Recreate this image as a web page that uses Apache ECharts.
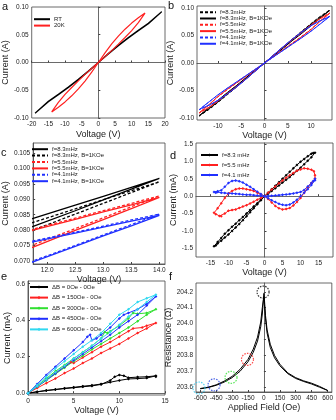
<!DOCTYPE html>
<html>
<head>
<meta charset="utf-8">
<script src="https://cdn.jsdelivr.net/npm/echarts@6/dist/echarts.min.js"></script>
<style>
html, body { margin: 0; padding: 0; background: #fff; }
#chart { width: 336px; height: 420px; }
</style>
</head>
<body>
<div id="chart"></div>
<script>
// ---- panel a : I-V at RT and 20K (A) ----
const aRtV = [0, 3, 6, 9, 12, 15, 19];
const aRtUp = [0, 0.0162, 0.0312, 0.0452, 0.0582, 0.0707, 0.0915];
const aRtLow = [0, 0.0154, 0.0300, 0.0440, 0.0570, 0.0697, 0.0915];
const a20kV = [0, 2, 4, 6, 8, 10, 12, 14];
const a20kUp = [0, 0.0175, 0.0335, 0.0475, 0.0600, 0.0710, 0.0805, 0.0890];
const a20kLow = [0, 0.0105, 0.0215, 0.0330, 0.0450, 0.0575, 0.0720, 0.0890];

// ---- panels b / c : loops at three frequencies, with and without field ----
const bV = [0, 2, 4, 6, 8, 10, 11.75, 12.5, 13, 13.5, 14];
const b83Up = [0, 0.0148, 0.0295, 0.0440, 0.0580, 0.0720, 0.0838, 0.0881, 0.0910, 0.0939, 0.0968];
const b83Low = [0, 0.0138, 0.0275, 0.0415, 0.0550, 0.0690, 0.0812, 0.0863, 0.0898, 0.0933, 0.0968];
const b83BUp = [0, 0.0145, 0.0290, 0.0430, 0.0570, 0.0710, 0.0825, 0.0869, 0.0899, 0.0928, 0.0957];
const b83BLow = [0, 0.0135, 0.0270, 0.0410, 0.0540, 0.0680, 0.0800, 0.0852, 0.0887, 0.0922, 0.0957];
const b55Up = [0, 0.0146, 0.0292, 0.0433, 0.0565, 0.0695, 0.0803, 0.0839, 0.0863, 0.0887, 0.0911];
const b55Low = [0, 0.0122, 0.0244, 0.0366, 0.0488, 0.0618, 0.0752, 0.0805, 0.0840, 0.0876, 0.0911];
const b55BUp = [0, 0.0145, 0.0290, 0.0430, 0.0560, 0.0690, 0.0800, 0.0835, 0.0859, 0.0882, 0.0906];
const b55BLow = [0, 0.0120, 0.0240, 0.0360, 0.0480, 0.0610, 0.0745, 0.0799, 0.0834, 0.0870, 0.0906];
const b41Up = [0, 0.0149, 0.0297, 0.0437, 0.0567, 0.0683, 0.0765, 0.0793, 0.0813, 0.0833, 0.0852];
const b41Low = [0, 0.0116, 0.0232, 0.0347, 0.0462, 0.0583, 0.0700, 0.0750, 0.0784, 0.0818, 0.0852];
const b41BUp = [0, 0.0148, 0.0295, 0.0435, 0.0565, 0.0680, 0.0762, 0.0790, 0.0810, 0.0829, 0.0848];
const b41BLow = [0, 0.0115, 0.0230, 0.0345, 0.0460, 0.0580, 0.0697, 0.0747, 0.0781, 0.0814, 0.0848];

// ---- panel d : I-V in mA, [V, I] in sweep order ----
const d83 = [[0,0],[1,0.1],[2,0.2],[3,0.3],[4,0.4],[5,0.5],[6,0.6],[7,0.7],[8,0.8],[9,0.9],[10,0.99],[11,1.07],[12,1.15],[13,1.22],[14,1.25],
  [13.5,1.24],[13,1.12],[12,1.02],[11,0.92],[10,0.82],[9,0.73],[8,0.64],[7,0.55],[6,0.47],[5,0.39],[4,0.31],[3,0.23],[2,0.15],[1,0.07],[0,0],
  [-1,-0.12],[-2,-0.23],[-3,-0.35],[-4,-0.46],[-5,-0.58],[-6,-0.69],[-7,-0.8],[-8,-0.9],[-9,-1.0],[-10,-1.1],[-11,-1.19],[-12,-1.28],[-13,-1.36],[-14,-1.44],
  [-13.5,-1.42],[-13,-1.32],[-12,-1.2],[-11,-1.08],[-10,-0.98],[-9,-0.88],[-8,-0.79],[-7,-0.69],[-6,-0.6],[-5,-0.5],[-4,-0.4],[-3,-0.3],[-2,-0.2],[-1,-0.1],[0,0]];
const d55 = [[0,0],[1,0.1],[2,0.19],[3,0.28],[4,0.37],[5,0.45],[6,0.53],[7,0.6],[8,0.67],[9,0.73],[10,0.77],[11,0.8],[12,0.79],[13,0.76],[13.7,0.72],[14,0.6],
  [14,0.5],[13,0.38],[12,0.25],[11,0.1],[10,-0.05],[9,-0.17],[8,-0.27],[7,-0.34],[6,-0.37],[5,-0.38],[4,-0.35],[3,-0.28],[2,-0.18],[1,-0.08],[0,0],
  [-1,0.05],[-2,0.1],[-3,0.15],[-4,0.18],[-5,0.2],[-6,0.22],[-7,0.22],[-8,0.2],[-9,0.15],[-10,0.08],[-11,-0.05],[-12,-0.2],[-13,-0.35],[-14,-0.48],
  [-13.5,-0.52],[-12.5,-0.57],[-12,-0.58],[-11,-0.5],[-10,-0.42],[-9,-0.4],[-8,-0.38],[-7,-0.34],[-6,-0.3],[-5,-0.26],[-4,-0.21],[-3,-0.16],[-2,-0.1],[-1,-0.05],[0,0]];
const d41 = [[0,0],[1,-0.06],[2,-0.12],[3,-0.17],[4,-0.22],[5,-0.25],[6,-0.26],[7,-0.24],[8,-0.18],[9,-0.1],[10,0.0],[11,0.1],[12,0.2],[13,0.32],[14,0.46],
  [14,0.5],[13.5,0.44],[13,0.38],[12,0.28],[11,0.18],[10,0.12],[9,0.1],[8,0.08],[7,0.06],[6,0.05],[5,0.04],[4,0.03],[3,0.02],[2,0.01],[1,0.005],[0,0],
  [-1,0.06],[-2,0.13],[-3,0.2],[-4,0.27],[-5,0.33],[-6,0.39],[-7,0.43],[-8,0.45],[-9,0.44],[-10,0.38],[-11,0.27],[-12,0.17],[-13,0.14],[-14,0.12],
  [-13.5,0.1],[-13,0.12],[-12,0.1],[-11,0.09],[-10,0.08],[-9,0.08],[-8,0.07],[-7,0.06],[-6,0.05],[-5,0.04],[-4,0.04],[-3,0.03],[-2,0.02],[-1,0.01],[0,0]];

// ---- panel e : field difference loops (mA) ----
const e0 = [[0,0],[1,0.008],[2,0.015],[3,0.02],[4,0.025],[5,0.03],[6,0.035],[7,0.04],[8,0.048],[9,0.07],[9.5,0.09],[10,0.1],[10.5,0.095],[11,0.085],[12,0.088],[13,0.09],[14,0.095],
  [14,0.09],[13,0.083],[12,0.08],[11,0.078],[10,0.07],[9,0.06],[8,0.05],[7,0.043],[6,0.038],[5,0.032],[4,0.027],[3,0.02],[2,0.014],[1,0.007],[0,0]];
const e150 = [[0,0],[1,0.04],[2,0.075],[3,0.11],[4,0.145],[4.7,0.17],[5,0.165],[6,0.195],[7,0.225],[8,0.255],[9,0.28],[10,0.31],[11,0.34],[11.5,0.355],[12.5,0.36],[13,0.37],[14,0.385],
  [13,0.355],[12,0.33],[11,0.3],[10,0.27],[9,0.245],[8,0.22],[7,0.19],[6,0.165],[5,0.135],[4,0.11],[3,0.08],[2,0.055],[1,0.028],[0,0]];
const e300 = [[0,0],[1,0.04],[2,0.08],[3,0.12],[4,0.155],[5,0.19],[6,0.225],[7,0.26],[8,0.3],[8.4,0.335],[8.7,0.33],[9,0.34],[10,0.37],[11,0.41],[11.5,0.44],[12,0.435],[13,0.44],[14,0.46],
  [13,0.43],[12,0.395],[11,0.36],[10,0.33],[9,0.3],[8,0.27],[7,0.24],[6,0.205],[5,0.175],[4,0.14],[3,0.105],[2,0.07],[1,0.035],[0,0]];
const e450 = [[0,0],[1,0.05],[2,0.1],[3,0.145],[4,0.19],[5,0.235],[6,0.28],[6.5,0.31],[6.8,0.32],[7,0.29],[7.5,0.3],[8,0.32],[9,0.36],[10,0.41],[10.5,0.43],[11,0.44],[12,0.46],[13,0.49],[14,0.53],
  [13,0.48],[12,0.43],[11,0.395],[10,0.36],[9,0.32],[8,0.285],[7,0.25],[6,0.215],[5,0.18],[4,0.145],[3,0.108],[2,0.072],[1,0.036],[0,0]];
const e600 = [[0,0],[1,0.045],[2,0.09],[3,0.135],[4,0.175],[5,0.215],[6,0.255],[7,0.29],[8,0.33],[9,0.38],[10,0.43],[11,0.46],[12,0.5],[13,0.52],[14,0.54],
  [13,0.5],[12,0.46],[11,0.42],[10,0.375],[9,0.335],[8,0.3],[7,0.26],[6,0.225],[5,0.19],[4,0.15],[3,0.115],[2,0.075],[1,0.038],[0,0]];

// ---- panel f : magnetoresistance ----
const fH = [-600, -525, -450, -375, -300, -225, -150, -100, -60, -30, -15, -5, 0, 5, 15, 30, 60, 100, 150, 225, 300, 375, 450, 525, 600];
const fUp = [203.590, 203.598, 203.612, 203.632, 203.660, 203.700, 203.760, 203.820, 203.890, 203.980, 204.060, 204.150, 204.190, 204.150, 204.050, 203.960, 203.870, 203.800, 203.745, 203.690, 203.660, 203.640, 203.625, 203.605, 203.580];
const fDown = [203.592, 203.600, 203.615, 203.638, 203.668, 203.712, 203.775, 203.840, 203.915, 204.010, 204.100, 204.180, 204.170, 204.120, 204.030, 203.940, 203.850, 203.785, 203.735, 203.685, 203.655, 203.636, 203.620, 203.600, 203.580];
const fCircleH = [-612, -470, -310, -155, -8];
const fCircleR = [203.595, 203.615, 203.662, 203.775, 204.198];
const fCircleColors = ['#33c8f0', '#2040e0', '#30e030', '#ff2020', '#000000'];

const FONT = 'Liberation Sans, Arial, sans-serif';
const AXIS = '#444';

// pinched loop: out along low, back along up, mirrored on negative side
function loop(v, up, low) {
  const pts = [];
  v.forEach((x, i) => pts.push([x, low[i]]));
  for (let i = v.length - 1; i >= 0; i--) pts.push([v[i], up[i]]);
  v.forEach((x, i) => pts.push([-x, -up[i]]));
  for (let i = v.length - 1; i >= 0; i--) pts.push([-v[i], -low[i]]);
  return pts;
}

function axis(gi, min, max, ticks, dec, name, gap) {
  return {
    type: 'value', gridIndex: gi, min: min, max: max,
    name: name, nameLocation: 'middle', nameGap: gap,
    nameTextStyle: { fontSize: 9, color: '#222', fontFamily: FONT },
    axisLine: { lineStyle: { color: AXIS, width: 0.8 } },
    axisTick: { inside: true, length: 2, customValues: ticks, lineStyle: { color: AXIS } },
    axisLabel: { customValues: ticks, fontSize: 6.5, color: '#222', margin: 3, fontFamily: FONT,
      formatter: v => v.toFixed(dec) },
    splitLine: { show: false }
  };
}

const grids = [
  { left: 31, top: 7, width: 134, height: 111 },
  { left: 197, top: 6, width: 135, height: 114 },
  { left: 27, top: 143, width: 138, height: 121 },
  { left: 196, top: 143, width: 137, height: 114 },
  { left: 28, top: 281, width: 137, height: 114 },
  { left: 196, top: 283, width: 138, height: 109 }
].map(g => Object.assign(g, { show: true, borderColor: AXIS, borderWidth: 0.8 }));

const xAxes = [
  axis(0, -20, 20, [-20, -15, -10, -5, 0, 5, 10, 15, 20], 0, 'Voltage (V)', 12),
  axis(1, -14.5, 14.5, [-10, -5, 0, 5, 10], 0, 'Voltage (V)', 11),
  axis(2, 11.75, 14.1, [12, 12.5, 13, 13.5, 14], 1, 'Voltage (V)', 11),
  axis(3, -19, 19, [-15, -10, -5, 0, 5, 10, 15], 0, 'Voltage (V)', 11),
  axis(4, 0, 15, [0, 5, 10, 15], 0, 'Voltage (V)', 11),
  axis(5, -640, 640, [-600, -450, -300, -150, 0, 150, 300, 450, 600], 0, 'Applied Field (Oe)', 11)
];
const yAxes = [
  axis(0, -0.1, 0.1, [-0.1, -0.05, 0, 0.05, 0.1], 2, 'Current (A)', 16),
  axis(1, -0.104, 0.104, [-0.1, -0.05, 0, 0.05, 0.1], 2, 'Current (A)', 15),
  axis(2, 0.069, 0.1083, [0.07, 0.075, 0.08, 0.085, 0.09, 0.095, 0.1, 0.105], 3, 'Current (A)', 12),
  axis(3, -1.75, 1.53, [-1.5, -1, -0.5, 0, 0.5, 1, 1.5], 1, 'Current (mA)', 12),
  axis(4, -0.01, 0.615, [0, 0.2, 0.4, 0.6], 1, 'Current (mA)', 12),
  axis(5, 203.57, 204.255, [203.6, 203.7, 203.8, 203.9, 204.0, 204.1, 204.2], 1, 'Resistance (\u03a9)', 16)
];
yAxes.forEach(a => { a.nameRotate = 90; });

function line(name, gi, data, color, dashed, width) {
  return {
    name: name, type: 'line', xAxisIndex: gi, yAxisIndex: gi, data: data,
    showSymbol: false, symbol: 'none', smooth: false,
    itemStyle: { color: color },
    lineStyle: { color: color, width: width || 1, type: dashed ? [3, 2] : 'solid' }
  };
}
function marked(name, gi, data, color) {
  return {
    name: name, type: 'line', xAxisIndex: gi, yAxisIndex: gi, data: data,
    symbol: 'diamond', symbolSize: 3,
    itemStyle: { color: color },
    lineStyle: { color: color, width: 1 }
  };
}

const bSet = [
  ['f=8.3mHz', '#000000', true, b83Up, b83Low],
  ['f=8.3mHz, B=1KOe', '#000000', false, b83BUp, b83BLow],
  ['f=5.5mHz', '#ff2020', true, b55Up, b55Low],
  ['f=5.5mHz, B=1KOe', '#ff2020', false, b55BUp, b55BLow],
  ['f=4.1mHz', '#2030ff', true, b41Up, b41Low],
  ['f=4.1mHz, B=1KOe', '#2030ff', false, b41BUp, b41BLow]
];
// panel c legend swaps the black line styles; trailing space keeps its legend separate
const cDash = [false, true, true, false, true, false];

const series = [
  line('RT', 0, loop(aRtV, aRtUp, aRtLow), '#000000', false, 1.2),
  line('20K', 0, loop(a20kV, a20kUp, a20kLow), '#ff2020', false, 1.2)
];
bSet.forEach(s => series.push(line(s[0], 1, loop(bV, s[3], s[4]), s[1], s[2], 1)));
bSet.forEach((s, i) => series.push(line(s[0] + ' ', 2, loop(bV, s[3], s[4]), s[1], cDash[i], 1.3)));
series.push(marked('f=8.3 mHz', 3, d83, '#000000'));
series.push(marked('f=5.5 mHz', 3, d55, '#ff2020'));
series.push(marked('f=4.1 mHz', 3, d41, '#2030ff'));
const eNames = ['\u0394B = 0Oe - 0Oe', '\u0394B = 150Oe - 0Oe', '\u0394B = 300Oe - 0Oe', '\u0394B = 450Oe - 0Oe', '\u0394B = 600Oe - 0Oe'];
const eColors = ['#000000', '#ff2020', '#30e030', '#2030ff', '#30d8f0'];
[e0, e150, e300, e450, e600].forEach((d, i) => series.push(marked(eNames[i], 4, d, eColors[i])));
series.push(line('fUp', 5, fH.map((h, i) => [h, fUp[i]]), '#000000', false, 1));
series.push(line('fDown', 5, fH.map((h, i) => [h, fDown[i]]).reverse(), '#000000', false, 1));
series.push({
  type: 'scatter', xAxisIndex: 5, yAxisIndex: 5, symbol: 'circle', symbolSize: 12,
  data: fCircleH.map((h, i) => ({ value: [h, fCircleR[i]],
    itemStyle: { color: 'rgba(0,0,0,0)', borderColor: fCircleColors[i], borderWidth: 1.2, borderType: [1.5, 1.2] } })),
  z: 5
});

// plain line legends hide the symbol; marked ones keep a small one
function legend(left, top, names, w, step, withSymbol) {
  const h = withSymbol ? 4 : step;
  const l = {
    left: left, top: top, orient: 'vertical', itemWidth: w, itemHeight: h, itemGap: step - h,
    padding: 0, data: names,
    textStyle: { fontSize: 6, color: '#222', fontFamily: FONT, padding: [0, 0, 0, -1] }
  };
  if (!withSymbol) l.itemStyle = { opacity: 0 };
  return l;
}

const option = {
  animation: false,
  backgroundColor: '#fff',
  title: [
    ['a', 2, 1], ['b', 168, 0], ['c', 1, 147], ['d', 170, 150], ['e', 1, 271], ['f', 169, 271]
  ].map(t => ({ text: t[0], left: t[1], top: t[2], padding: 0,
    textStyle: { fontSize: 11, fontWeight: 'normal', color: '#111', fontFamily: FONT } })),
  grid: grids,
  xAxis: xAxes,
  yAxis: yAxes,
  legend: [
    legend(33, 16, ['RT', '20K'], 16, 8, false),
    legend(199, 9, bSet.map(s => s[0]), 16, 7.9, false),
    legend(31, 146, bSet.map(s => s[0] + ' '), 16, 8, false),
    legend(200, 152, ['f=8.3 mHz', 'f=5.5 mHz', 'f=4.1 mHz'], 17, 8, true),
    legend(29, 284, eNames, 18, 8.6, true)
  ],
  series: series
};

const chart = echarts.init(document.getElementById('chart'), null, { renderer: 'canvas' });
chart.setOption(option);
</script>
</body>
</html>
